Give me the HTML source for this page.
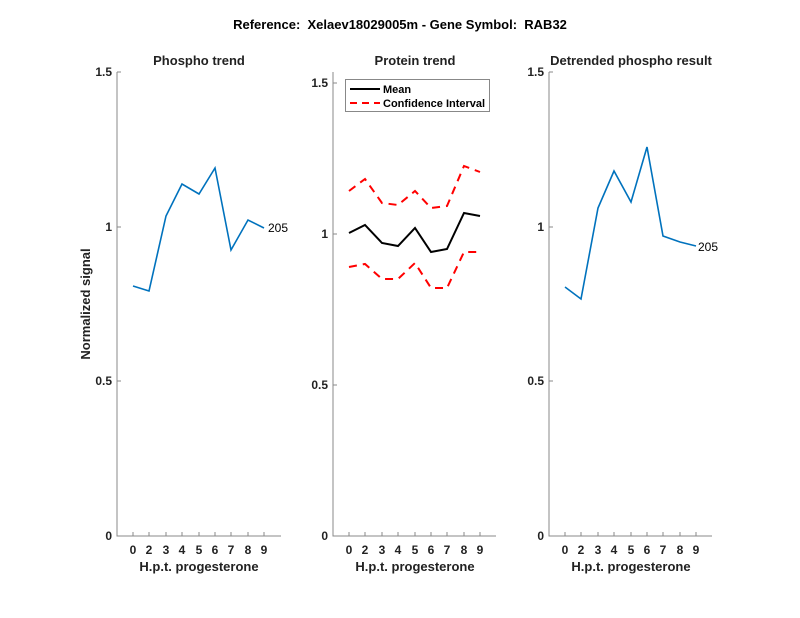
<!DOCTYPE html>
<html><head><meta charset="utf-8"><style>body{margin:0;background:#fff}svg{display:block}</style></head><body>
<svg width="800" height="618" xmlns="http://www.w3.org/2000/svg" font-family="Liberation Sans, sans-serif">
<rect width="800" height="618" fill="#fff"/>
<text x="400" y="29" text-anchor="middle" font-size="13" font-weight="bold">Reference:&#160; Xelaev18029005m - Gene Symbol:&#160; RAB32</text>
<g stroke="#888" fill="none" stroke-width="1">
<path d="M117,72V536H281"/><path d="M333,72V536H496"/><path d="M549,72V536H712"/>
<path d="M117,72h4M117,227h4M117,381h4M333,83h4M333,234h4M333,385h4M549,72h4M549,227h4M549,381h4"/>
<path d="M133,536v-4M149,536v-4M166,536v-4M182,536v-4M199,536v-4M215,536v-4M231,536v-4M248,536v-4M264,536v-4"/>
<path d="M349,536v-4M365,536v-4M382,536v-4M398,536v-4M415,536v-4M431,536v-4M447,536v-4M464,536v-4M480,536v-4"/>
<path d="M565,536v-4M581,536v-4M598,536v-4M614,536v-4M631,536v-4M647,536v-4M663,536v-4M680,536v-4M696,536v-4"/>
</g>
<g font-size="12" font-weight="bold" fill="#222" text-anchor="end">
<text x="112" y="76">1.5</text><text x="112" y="231">1</text><text x="112" y="385">0.5</text><text x="112" y="540">0</text>
<text x="328" y="87">1.5</text><text x="328" y="238">1</text><text x="328" y="389">0.5</text><text x="328" y="540">0</text>
<text x="544" y="76">1.5</text><text x="544" y="231">1</text><text x="544" y="385">0.5</text><text x="544" y="540">0</text>
</g>
<g font-size="12" font-weight="bold" fill="#222" text-anchor="middle">
<text x="133" y="554">0</text><text x="149" y="554">2</text><text x="166" y="554">3</text><text x="182" y="554">4</text><text x="199" y="554">5</text><text x="215" y="554">6</text><text x="231" y="554">7</text><text x="248" y="554">8</text><text x="264" y="554">9</text>
<text x="349" y="554">0</text><text x="365" y="554">2</text><text x="382" y="554">3</text><text x="398" y="554">4</text><text x="415" y="554">5</text><text x="431" y="554">6</text><text x="447" y="554">7</text><text x="464" y="554">8</text><text x="480" y="554">9</text>
<text x="565" y="554">0</text><text x="581" y="554">2</text><text x="598" y="554">3</text><text x="614" y="554">4</text><text x="631" y="554">5</text><text x="647" y="554">6</text><text x="663" y="554">7</text><text x="680" y="554">8</text><text x="696" y="554">9</text>
</g>
<g font-size="13" font-weight="bold" fill="#222" text-anchor="middle">
<text x="199" y="571">H.p.t. progesterone</text><text x="415" y="571">H.p.t. progesterone</text><text x="631" y="571">H.p.t. progesterone</text>
<text x="199" y="65">Phospho trend</text><text x="415" y="65">Protein trend</text><text x="631" y="65">Detrended phospho result</text>
<text transform="translate(90,304) rotate(-90)">Normalized signal</text>
</g>
<g fill="none" stroke-width="2">
<polyline stroke="#0072bd" stroke-width="1.6" points="133,286 149,291 166,216 182,184 199,194 215,168 231,250 248,220 264,228"/>
<polyline stroke="#0072bd" stroke-width="1.6" points="565,287 581,299 598,208 614,171 631,202 647,147 663,236 680,242 696,246"/>
<polyline stroke="#000" points="349,233 365,225 382,243 398,246 415,228 431,252 447,249 464,213 480,216"/>
<polyline stroke="#f00" stroke-dasharray="8,6" points="349,191 365,179 382,203 398,205 415,191 431,208 447,206 464,166 480,172"/>
<polyline stroke="#f00" stroke-dasharray="8,6" points="349,267 365,264 382,279 398,279 415,263 431,288 447,288 464,252 480,252"/>
</g>
<text x="268" y="232" font-size="12">205</text>
<text x="698" y="251" font-size="12">205</text>
<rect x="345.5" y="79.5" width="144" height="32" fill="#fff" stroke="#888"/>
<line x1="350" y1="89" x2="380" y2="89" stroke="#000" stroke-width="2"/>
<line x1="350" y1="103" x2="380" y2="103" stroke="#f00" stroke-width="2" stroke-dasharray="7,5"/>
<text x="383" y="93" font-size="11" font-weight="bold">Mean</text>
<text x="383" y="107" font-size="11" font-weight="bold">Confidence Interval</text>
</svg>
</body></html>
